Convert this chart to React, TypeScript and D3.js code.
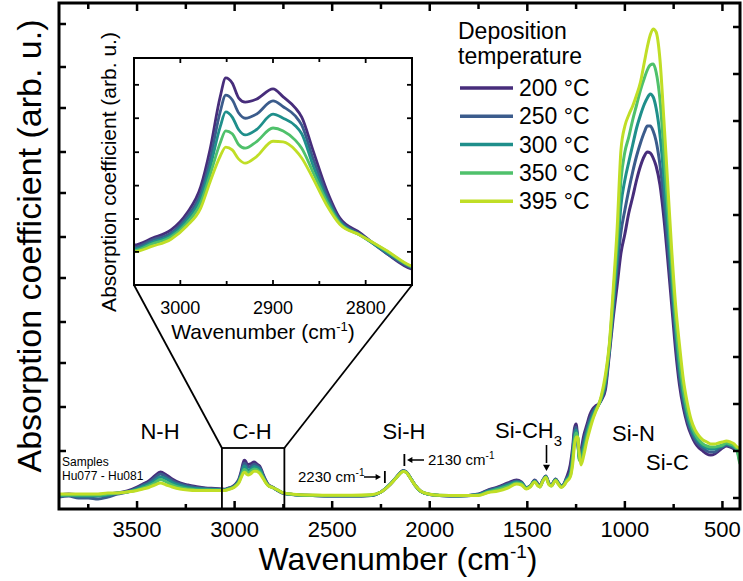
import React from 'react';
import * as d3 from 'd3';

// ---------- DATA ----------
const wavenumbers = [
  3900, 3850, 3800, 3750, 3700, 3650, 3600, 3550, 3500, 3470, 3440, 3410, 3380, 3350, 3320, 3280, 3240, 3200, 3150, 3100,
  3050, 3030, 3010, 2993, 2978, 2968, 2957, 2951, 2944, 2937, 2930, 2918, 2900, 2889, 2876, 2869, 2857, 2842, 2828, 2806, 2778, 2750,
  2700, 2600, 2500, 2400, 2300,
  2250, 2200, 2170, 2150, 2136, 2120, 2100, 2076, 2045, 2000, 1950,
  1850, 1750, 1700, 1650, 1600, 1555, 1530, 1505, 1485, 1462, 1445, 1436, 1420, 1405, 1390, 1377, 1355, 1340, 1325, 1310,
  1300, 1280, 1268, 1258, 1250, 1242, 1234, 1225, 1210, 1195, 1180, 1165, 1150, 1135, 1120, 1100, 1080, 1060, 1040, 1020,
  1000, 980, 960, 940, 920, 900, 885, 870, 855, 840, 820, 800, 780, 760, 740, 720, 700, 680, 660, 640,
  620, 600, 580, 560, 540, 520, 500, 480, 460, 440, 425, 415, 410,
];

const abs200 = [
  14, 15, 14, 13, 14, 15, 16, 18, 22, 25, 28, 33, 37, 34, 30, 26, 24, 22.5, 21, 20.5,
  19.8, 21.0, 22.4, 25.3, 29.9, 36.3, 45.5, 48.8, 47.9, 45.3, 44.6, 45.1, 46.9, 45.5, 43.6, 42.0, 36.3, 29.3, 24.5, 21.9, 18.4, 15.6,
  14.5, 13.5, 13, 13, 13.5,
  17, 25, 32, 36.5, 38.5, 37, 31.5, 24, 17.5, 14.5, 13.5,
  13, 15, 19, 22, 26, 29, 27, 21.5, 23, 29, 25, 23, 29, 33, 26, 24, 30, 26, 23, 26,
  31, 44, 61, 81, 85, 71, 54, 59, 74, 84, 94, 100, 103, 105, 109, 119, 154, 191, 223, 256,
  275, 296, 312, 329, 343, 353, 357, 356, 351, 343, 324, 291, 249, 204, 159, 124, 101, 85, 74, 66,
  61, 58, 55, 54, 55, 58, 61, 63, 62, 60, 59, 58, 57,
];

const abs250 = [
  12, 13, 11, 11, 10, 12, 15, 17, 21, 24, 26.5, 31, 35, 32, 28.5, 25, 23, 21.5, 20.5, 20,
  19.4, 20.7, 21.9, 24.7, 28.8, 34.5, 42.9, 45.8, 45.0, 42.7, 41.8, 42.5, 44.8, 43.8, 42.2, 40.6, 34.9, 28.5, 24.1, 21.7, 18.4, 15.8,
  14.3, 13.4, 13, 13, 13.6,
  17, 25.5, 32, 36.5, 38.3, 37, 31.5, 24, 17.5, 14.5, 13.5,
  13, 14.6, 18.5, 21.3, 25, 28, 26.5, 21, 23, 28.5, 24.5, 23, 29, 32.7, 26, 24, 29.7, 26, 23, 25.5,
  30, 37, 56, 77, 82, 70, 52, 55, 69, 80, 90, 97, 101, 104, 110, 123, 157, 197, 241, 277,
  299, 319, 337, 353, 366, 377, 383, 383, 378, 368, 344, 309, 264, 217, 171, 132, 107, 89, 77, 69,
  64, 61, 58, 57, 57, 60, 62, 64, 63, 61, 59, 54, 51,
];

const abs300 = [
  13, 14, 13, 13, 13, 14, 16, 17, 20, 22.5, 25, 28.5, 32, 30, 26.5, 23.5, 21.5, 20.5, 19.8, 19.5,
  19.1, 20.3, 21.5, 24.1, 28.0, 33.2, 40.3, 42.9, 42.0, 39.8, 38.9, 39.8, 42.5, 41.8, 40.5, 39.1, 33.7, 27.8, 23.8, 21.5, 18.6, 16.0,
  14.4, 13.5, 13.2, 13.2, 13.8,
  17, 25.5, 31.8, 36.2, 38, 36.8, 31.3, 24, 17.5, 14.6, 13.6,
  13.2, 14.3, 17.8, 20.5, 24, 27, 26, 21, 22.8, 28, 24, 22.5, 28.5, 32.3, 25.5, 23.5, 29.3, 25.5, 22.5, 25,
  29, 35, 52, 73, 79, 71, 50, 52, 64, 76, 86, 94, 100, 104, 111, 127, 160, 204, 251, 304,
  329, 347, 364, 381, 394, 405, 411, 415, 412, 401, 374, 331, 281, 231, 181, 140, 113, 93, 80, 72,
  67, 63, 61, 60, 60, 62, 63, 65, 64, 62, 59, 51, 47,
];

const abs350 = [
  14, 14, 14, 14, 14, 15, 16, 17, 19, 21, 23, 26, 29.5, 27, 24, 21.5, 20, 19.3, 19, 18.8,
  18.8, 20.0, 21.2, 23.6, 27.1, 31.9, 37.5, 39.6, 39.1, 37.2, 36.6, 37.7, 40.1, 39.6, 38.0, 36.6, 32.5, 27.3, 23.6, 21.5, 18.8, 16.0,
  14.6, 13.7, 13.4, 13.4, 14,
  17, 25.3, 31.6, 36, 37.8, 36.6, 31.2, 24, 17.6, 14.7, 13.7,
  13.3, 14, 17, 19.5, 22.5, 26, 25, 20.5, 22.5, 27.5, 23.5, 22, 28, 32, 25, 23, 29, 25, 22, 24.5,
  28, 33, 48, 69, 76, 72, 49, 48, 59, 72, 83, 91, 98, 104, 112, 130, 162, 211, 265, 329,
  357, 372, 389, 404, 419, 431, 439, 444, 445, 437, 409, 357, 301, 244, 190, 149, 119, 98, 84, 75,
  69, 65, 63, 62, 62, 63, 64, 66, 65, 63, 59, 49, 45,
];

const abs395 = [
  15, 15, 15, 15, 15, 16, 16, 17, 18.5, 20, 21.5, 24, 26, 24, 22, 20, 19, 18.5, 18.5, 18.5,
  18.6, 19.6, 20.8, 23.1, 26.2, 30.7, 35.2, 36.8, 36.3, 34.7, 34.0, 35.1, 37.8, 37.7, 36.3, 34.9, 31.4, 26.7, 23.4, 21.5, 18.9, 16.1,
  14.8, 14, 13.7, 13.7, 14.2,
  17, 25, 31.5, 35.8, 37.5, 36.5, 31, 24, 17.8, 14.8, 13.8,
  13.5, 13.5, 16.5, 18, 21, 25, 24, 20, 22, 27, 23, 22, 28, 31.5, 24.5, 23, 28.5, 24.5, 21.5, 24,
  27, 32, 44, 64, 72, 72, 56, 44, 54, 68, 79, 89, 97, 104, 114, 134, 164, 219, 279, 359,
  383, 394, 403, 414, 427, 447, 462, 474, 480, 477, 449, 389, 324, 259, 204, 164, 129, 106, 89, 79,
  73, 69, 67, 65, 65, 66, 67, 68, 67, 65, 62, 61, 60,
];

const seriesValues = [abs200, abs250, abs300, abs350, abs395];
const seriesLabels = ['200 °C', '250 °C', '300 °C', '350 °C', '395 °C'];
const seriesColors = ['#472d7b', '#3b5c8c', '#1f8f8b', '#4fc16b', '#c0de26'];

const xMajorTicks = [3500, 3000, 2500, 2000, 1500, 1000, 500];
const xMinorTicks = [3750, 3250, 2750, 2250, 1750, 1250, 750];
const yLeftTicks = [58, 102, 146, 187, 231, 272, 316, 357, 401, 442, 485];
const yRightTicks = [11, 58, 105, 152, 200, 247, 294, 341, 388, 435, 482];

const insetMajorTicks = [3000, 2900, 2800];
const insetMinorTicks = [2950, 2850];
const insetYTicks = [18.6, 24.3, 30.1, 35.9, 41.8, 47.6];

const zoomRange = [3065, 2745];
const zoomTop = 61;

const FONT = '"Liberation Sans", Arial, Helvetica, sans-serif';

export default function App() {
  const W = 743, H = 581;
  const L = 59, R = 740, T = 3, B = 509;
  const x = d3.scaleLinear().domain([3900, 410]).range([L, R]);
  const y = d3.scaleLinear().domain([0, 506]).range([B, T]);

  const IL = 134, IR = 412, IT = 58, IB = 285;
  const ix = d3.scaleLinear().domain([3050, 2750]).range([IL, IR]);
  const iy = d3.scaleLinear().domain([0, 50]).range([359, 71]);

  const mainLine = d3
    .line<number>()
    .x((_, i) => x(wavenumbers[i]))
    .y((d) => y(d))
    .curve(d3.curveMonotoneX);

  const insetIdx = wavenumbers.map((w, i) => i).filter((i) => wavenumbers[i] <= 3100 && wavenumbers[i] >= 2700);

  const boxL = x(zoomRange[0]);
  const boxR = x(zoomRange[1]);
  const boxT = y(zoomTop);

  const arrowHead = (tx: number, ty: number, dir: 'left' | 'right' | 'down', s = 5) => {
    if (dir === 'right') return `M${tx},${ty} L${tx - s * 1.8},${ty - s} L${tx - s * 1.8},${ty + s} Z`;
    if (dir === 'left') return `M${tx},${ty} L${tx + s * 1.8},${ty - s} L${tx + s * 1.8},${ty + s} Z`;
    return `M${tx},${ty} L${tx - s},${ty - s * 1.8} L${tx + s},${ty - s * 1.8} Z`;
  };

  return (
    <svg width={W} height={H} style={{ position: 'absolute', left: 0, top: 0, background: '#fff' }} fontFamily={FONT}>
      <defs>
        <clipPath id="mainClip">
          <rect x={L} y={T} width={R - L} height={B - T} />
        </clipPath>
        <clipPath id="insetClip">
          <rect x={IL} y={IT} width={IR - IL} height={IB - IT} />
        </clipPath>
      </defs>
      <rect x={0} y={0} width={W} height={H} fill="#fff" />

      {/* main curves */}
      <g clipPath="url(#mainClip)">
        {seriesValues.map((vals, k) => (
          <path key={k} d={mainLine(vals) || ''} fill="none" stroke={seriesColors[k]} strokeWidth={3} strokeLinejoin="round" />
        ))}
      </g>

      {/* main frame & ticks */}
      <rect x={L} y={T} width={R - L} height={B - T} fill="none" stroke="#000" strokeWidth={3} />
      {xMajorTicks.map((t) => (
        <g key={'xm' + t}>
          <line x1={x(t)} x2={x(t)} y1={B} y2={B - 8} stroke="#000" strokeWidth={2.5} />
          <line x1={x(t)} x2={x(t)} y1={T} y2={T + 8} stroke="#000" strokeWidth={2.5} />
          <text x={x(t)} y={537} fontSize={22} textAnchor="middle">{t}</text>
        </g>
      ))}
      {xMinorTicks.map((t) => (
        <g key={'xn' + t}>
          <line x1={x(t)} x2={x(t)} y1={B} y2={B - 5} stroke="#000" strokeWidth={2.5} />
          <line x1={x(t)} x2={x(t)} y1={T} y2={T + 6} stroke="#000" strokeWidth={2.5} />
        </g>
      ))}
      {yLeftTicks.map((t) => (
        <line key={'yl' + t} x1={L} x2={L + 7} y1={y(t)} y2={y(t)} stroke="#000" strokeWidth={2.5} />
      ))}
      {yRightTicks.map((t) => (
        <line key={'yr' + t} x1={R} x2={R - 7} y1={y(t)} y2={y(t)} stroke="#000" strokeWidth={2.5} />
      ))}

      {/* axis titles */}
      <text transform={`translate(41,246) rotate(-90)`} fontSize={34} textAnchor="middle">
        Absorption coefficient (arb. u.)
      </text>
      <text x={398} y={570} fontSize={32} textAnchor="middle">
        Wavenumber (cm<tspan dy={-12} fontSize={19}>-1</tspan><tspan dy={12}>)</tspan>
      </text>

      {/* zoom box and connectors */}
      <rect x={boxL} y={boxT} width={boxR - boxL} height={B - boxT} fill="none" stroke="#000" strokeWidth={1.8} />
      <line x1={IL} y1={IB} x2={boxL} y2={boxT} stroke="#000" strokeWidth={1.8} />
      <line x1={IR} y1={IB} x2={boxR} y2={boxT} stroke="#000" strokeWidth={1.8} />

      {/* inset */}
      <rect x={IL} y={IT} width={IR - IL} height={IB - IT} fill="#fff" />
      <g clipPath="url(#insetClip)">
        {seriesValues.map((vals, k) => (
          <path
            key={k}
            d={
              d3
                .line<number>()
                .x((i) => ix(wavenumbers[i]))
                .y((i) => iy(vals[i]))
                .curve(d3.curveMonotoneX)(insetIdx) || ''
            }
            fill="none"
            stroke={seriesColors[k]}
            strokeWidth={2.8}
            strokeLinejoin="round"
          />
        ))}
      </g>
      <rect x={IL} y={IT} width={IR - IL} height={IB - IT} fill="none" stroke="#000" strokeWidth={2} />
      {insetMajorTicks.map((t) => (
        <g key={'im' + t}>
          <line x1={ix(t)} x2={ix(t)} y1={IB} y2={IB - 5} stroke="#000" strokeWidth={1.8} />
          <line x1={ix(t)} x2={ix(t)} y1={IT} y2={IT + 5} stroke="#000" strokeWidth={1.8} />
          <text x={ix(t)} y={314} fontSize={18} textAnchor="middle">{t}</text>
        </g>
      ))}
      {insetMinorTicks.map((t) => (
        <g key={'in' + t}>
          <line x1={ix(t)} x2={ix(t)} y1={IB} y2={IB - 4} stroke="#000" strokeWidth={1.8} />
          <line x1={ix(t)} x2={ix(t)} y1={IT} y2={IT + 4} stroke="#000" strokeWidth={1.8} />
        </g>
      ))}
      {insetYTicks.map((t) => (
        <g key={'iy' + t}>
          <line x1={IL} x2={IL + 5} y1={iy(t)} y2={iy(t)} stroke="#000" strokeWidth={1.8} />
          <line x1={IR} x2={IR - 5} y1={iy(t)} y2={iy(t)} stroke="#000" strokeWidth={1.8} />
        </g>
      ))}
      <text transform={`translate(116,172) rotate(-90)`} fontSize={21} textAnchor="middle">
        Absorption coefficient (arb. u.)
      </text>
      <text x={263} y={339} fontSize={21} textAnchor="middle">
        Wavenumber (cm<tspan dy={-8} fontSize={13}>-1</tspan><tspan dy={8}>)</tspan>
      </text>

      {/* legend */}
      <text x={458} y={39} fontSize={23}>Deposition</text>
      <text x={458} y={64} fontSize={23}>temperature</text>
      {seriesLabels.map((lab, k) => {
        const ly = 88 + k * 28.3;
        return (
          <g key={lab}>
            <line x1={460} x2={513} y1={ly} y2={ly} stroke={seriesColors[k]} strokeWidth={3.5} />
            <text x={519} y={ly + 8} fontSize={23}>{lab}</text>
          </g>
        );
      })}

      {/* band labels */}
      <text x={160} y={439} fontSize={22} textAnchor="middle">N-H</text>
      <text x={252} y={439} fontSize={22} textAnchor="middle">C-H</text>
      <text x={404} y={439} fontSize={22} textAnchor="middle">Si-H</text>
      <text x={495} y={438} fontSize={22}>
        Si-CH<tspan dy={8} fontSize={15}>3</tspan>
      </text>
      <text x={612} y={441} fontSize={22}>Si-N</text>
      <text x={646} y={470} fontSize={22}>Si-C</text>

      <text x={62} y={466} fontSize={12}>Samples</text>
      <text x={62} y={480} fontSize={12}>Hu077 - Hu081</text>

      {/* 2230 annotation */}
      <text x={298} y={482} fontSize={15}>
        2230 cm<tspan dy={-6} fontSize={10}>-1</tspan>
      </text>
      <line x1={364} x2={376} y1={477} y2={477} stroke="#000" strokeWidth={1.5} />
      <path d={arrowHead(381, 477, 'right', 3)} fill="#000" />
      <line x1={x(2230)} x2={x(2230)} y1={471} y2={483} stroke="#000" strokeWidth={1.8} />

      {/* 2130 annotation */}
      <line x1={x(2130)} x2={x(2130)} y1={454} y2={466} stroke="#000" strokeWidth={1.8} />
      <line x1={412} x2={424} y1={460} y2={460} stroke="#000" strokeWidth={1.5} />
      <path d={arrowHead(407, 460, 'left', 3)} fill="#000" />
      <text x={428} y={465} fontSize={15}>
        2130 cm<tspan dy={-6} fontSize={10}>-1</tspan>
      </text>

      {/* Si-CH3 arrow */}
      <line x1={546.5} x2={546.5} y1={445} y2={463} stroke="#000" strokeWidth={1.6} />
      <path d={arrowHead(546.5, 471, 'down', 3.5)} fill="#000" />
    </svg>
  );
}
